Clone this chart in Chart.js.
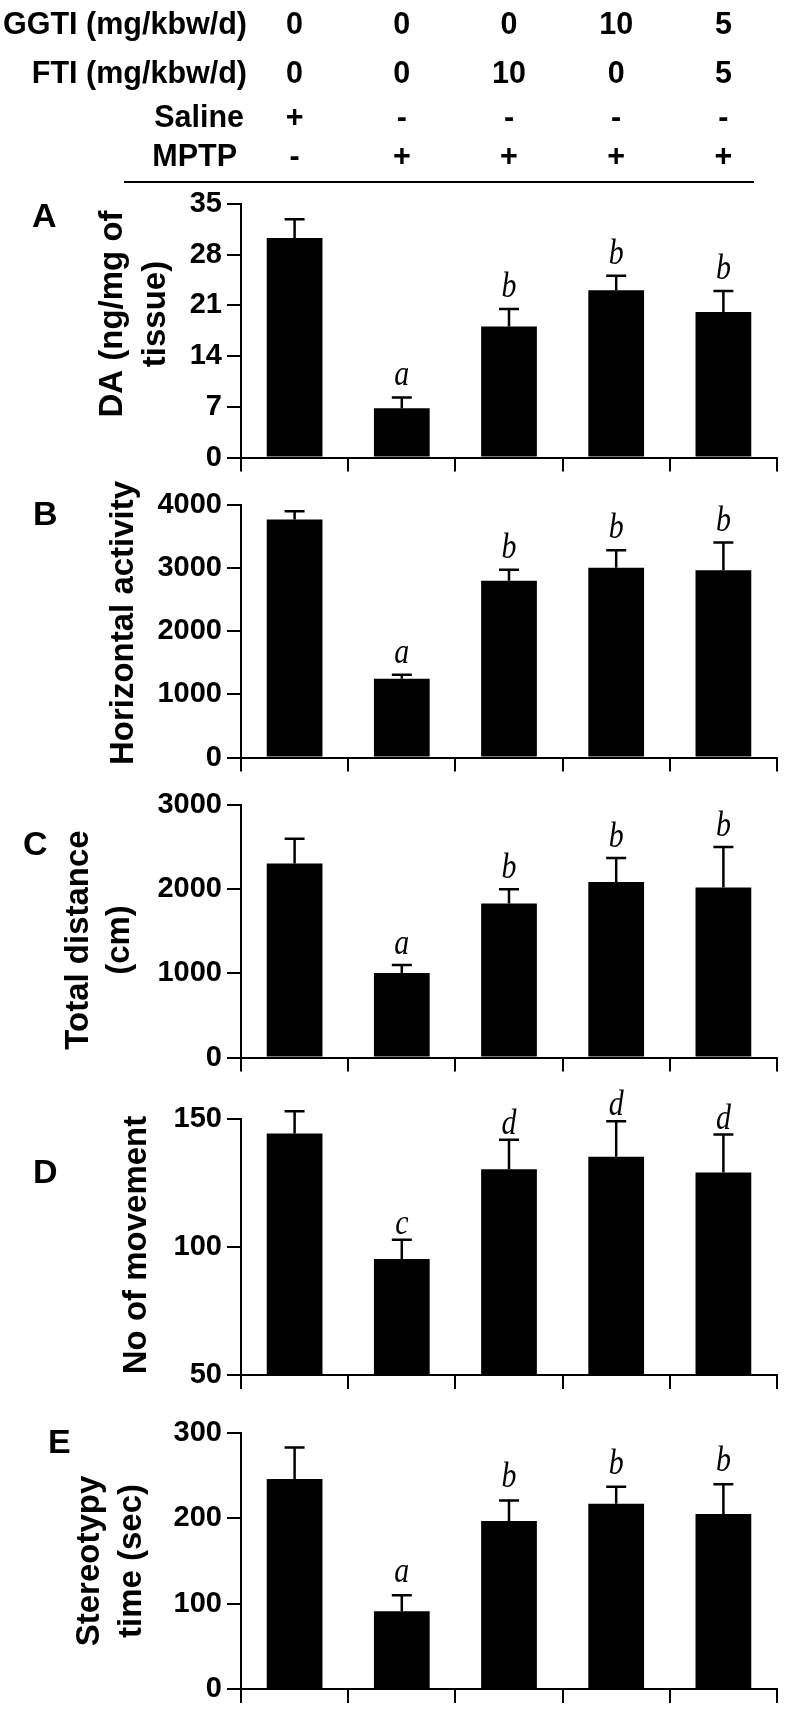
<!DOCTYPE html>
<html><head><meta charset="utf-8">
<script src="https://cdn.jsdelivr.net/npm/chart.js@4.4.1/dist/chart.umd.min.js"></script>
<style>
html,body{margin:0;padding:0;background:#fff;}
#wrap{position:relative;width:787px;height:1713px;overflow:hidden;background:#fff;}
canvas{position:absolute;left:0;}
</style></head><body><div id="wrap">
<canvas id="cA" width="787" height="480" style="top:0px"></canvas>
<canvas id="cB" width="787" height="300" style="top:480px"></canvas>
<canvas id="cC" width="787" height="300" style="top:780px"></canvas>
<canvas id="cD" width="787" height="320" style="top:1080px"></canvas>
<canvas id="cE" width="787" height="313" style="top:1400px"></canvas>
</div>
<script>
// ---- data ----
const groups = ['Saline', 'MPTP', 'MPTP + FTI 10', 'MPTP + GGTI 10', 'MPTP + GGTI 5 + FTI 5'];
const ggtiDose = ['0', '0', '0', '10', '5'];
const ftiDose = ['0', '0', '10', '0', '5'];
const salineRow = ['+', '-', '-', '-', '-'];
const mptpRow = ['-', '+', '+', '+', '+'];

const daMean = [30.3, 6.8, 18.1, 23.1, 20.1];
const daSem = [2.6, 1.5, 2.4, 2.0, 2.9];
const daSig = ['', 'a', 'b', 'b', 'b'];
const daTicks = [0, 7, 14, 21, 28, 35];

const horizMean = [3770, 1250, 2800, 3005, 2965];
const horizSem = [130, 60, 175, 280, 440];
const horizSig = ['', 'a', 'b', 'b', 'b'];
const horizTicks = [0, 1000, 2000, 3000, 4000];

const distMean = [2305, 1005, 1830, 2085, 2020];
const distSem = [295, 95, 170, 285, 480];
const distSig = ['', 'a', 'b', 'b', 'b'];
const distTicks = [0, 1000, 2000, 3000];

const moveMean = [144.3, 95.3, 130.4, 135.3, 129.1];
const moveSem = [8.7, 7.5, 11.5, 13.8, 14.8];
const moveSig = ['', 'c', 'd', 'd', 'd'];
const moveTicks = [50, 100, 150];

const stereoMean = [246, 91, 197, 217, 205];
const stereoSem = [37, 19, 24, 20, 35];
const stereoSig = ['', 'a', 'b', 'b', 'b'];
const stereoTicks = [0, 100, 200, 300];

// ---- layout / style ----
const SANS = '"Liberation Sans", Arial, Helvetica, sans-serif';
const SERIF = '"Liberation Serif", "Times New Roman", serif';
const AXIS_LEFT = 241, AXIS_RIGHT = 777;

const panels = [
  {id:'cA', top:0, h:480, areaTop:204, areaBot:460, mean:daMean, sem:daSem, sig:daSig, ticks:daTicks,
   letter:'A', letterX:32, letterY:227, title:['DA (ng/mg of','tissue)'], titleX:[122,165], titleCY:314, gap:12, header:true},
  {id:'cB', top:480, h:300, areaTop:505, areaBot:762, mean:horizMean, sem:horizSem, sig:horizSig, ticks:horizTicks,
   letter:'B', letterX:33, letterY:525, title:['Horizontal activity'], titleX:[133], titleCY:623, gap:12},
  {id:'cC', top:780, h:300, areaTop:805, areaBot:1062, mean:distMean, sem:distSem, sig:distSig, ticks:distTicks,
   letter:'C', letterX:23, letterY:855, title:['Total distance','(cm)'], titleX:[88,129], titleCY:940, gap:11},
  {id:'cD', top:1080, h:320, areaTop:1119, areaBot:1375, mean:moveMean, sem:moveSem, sig:moveSig, ticks:moveTicks,
   letter:'D', letterX:33, letterY:1183, title:['No of movement'], titleX:[146], titleCY:1245, gap:6},
  {id:'cE', top:1400, h:313, areaTop:1433, areaBot:1689, mean:stereoMean, sem:stereoSem, sig:stereoSig, ticks:stereoTicks,
   letter:'E', letterX:48, letterY:1453, title:['Stereotypy','time (sec)'], titleX:[99,141], titleCY:1561, gap:13}
];

function panelPlugin(p){
  return {
    id:'deco'+p.letter,
    afterDatasetsDraw(chart){
      const ctx = chart.ctx, ys = chart.scales.y, xs = chart.scales.x;
      const meta = chart.getDatasetMeta(0);
      ctx.save();
      ctx.strokeStyle = '#000'; ctx.fillStyle = '#000';
      ctx.lineWidth = 2.5; ctx.lineCap = 'butt';
      p.mean.forEach((m, i) => {
        const el = meta.data[i];
        const px = el.x, pb = el.y, pt = ys.getPixelForValue(m + p.sem[i]);
        ctx.beginPath();
        ctx.moveTo(px, pb); ctx.lineTo(px, pt);
        ctx.moveTo(px - 10, pt); ctx.lineTo(px + 10, pt);
        ctx.stroke();
        if (p.sig[i]) {
          ctx.save();
          ctx.translate(px, pt - p.gap);
          ctx.scale(0.83, 1);
          ctx.font = 'italic 36px ' + SERIF;
          ctx.textAlign = 'center'; ctx.textBaseline = 'alphabetic';
          ctx.fillText(p.sig[i], 0, 0);
          ctx.restore();
        }
      });
      // panel letter
      ctx.font = 'bold 34px ' + SANS;
      ctx.textAlign = 'left'; ctx.textBaseline = 'alphabetic';
      ctx.fillText(p.letter, p.letterX, p.letterY - p.top);
      // rotated axis title
      ctx.font = 'bold 33px ' + SANS;
      p.title.forEach((t, k) => {
        ctx.save();
        ctx.translate(p.titleX[k], p.titleCY - p.top);
        ctx.rotate(-Math.PI / 2);
        ctx.textAlign = 'center'; ctx.textBaseline = 'alphabetic';
        ctx.fillText(t, 0, 0);
        ctx.restore();
      });
      // treatment header (panel A only)
      if (p.header) {
        ctx.font = 'bold 30.5px ' + SANS;
        const rows = [
          {label:'GGTI (mg/kbw/d)', vals:ggtiDose, y:34, rx:247},
          {label:'FTI (mg/kbw/d)', vals:ftiDose, y:83, rx:247},
          {label:'Saline', vals:salineRow, y:127, rx:244},
          {label:'MPTP', vals:mptpRow, y:166, rx:237}
        ];
        rows.forEach(r => {
          ctx.textAlign = 'right';
          ctx.fillText(r.label, r.rx, r.y);
          ctx.textAlign = 'center';
          r.vals.forEach((v, i) => ctx.fillText(v, xs.getPixelForValue(i), r.y));
        });
        ctx.lineWidth = 2;
        ctx.beginPath(); ctx.moveTo(124, 182); ctx.lineTo(754, 182); ctx.stroke();
      }
      ctx.restore();
    }
  };
}

panels.forEach(p => {
  const T = p.areaTop - p.top, B = p.areaBot - p.top;
  new Chart(document.getElementById(p.id), {
    type: 'bar',
    data: {
      labels: groups,
      datasets: [{data: p.mean, backgroundColor: '#000', borderWidth: 0,
                  categoryPercentage: 1.0, barPercentage: 0.52}]
    },
    options: {
      responsive: false, animation: false, devicePixelRatio: 1,
      layout: {padding: {left: 0, top: T, right: 787 - AXIS_RIGHT, bottom: 0}},
      plugins: {legend: {display: false}, tooltip: {enabled: false}},
      scales: {
        x: {
          ticks: {display: false},
          grid: {display: true, drawOnChartArea: false, drawTicks: true, tickLength: 14, color: '#000', lineWidth: 2, offset: true},
          border: {display: true, color: '#000', width: 2},
          afterFit: s => { s.height = p.h - B; }
        },
        y: {
          min: p.ticks[0], max: p.ticks[p.ticks.length - 1],
          afterBuildTicks: s => { s.ticks = p.ticks.map(v => ({value: v})); },
          ticks: {color: '#000', padding: 5, font: {family: SANS, size: 29, weight: 'bold'},
                  callback: v => String(v)},
          grid: {display: true, drawOnChartArea: false, drawTicks: true, tickLength: 14, color: '#000', lineWidth: 2},
          border: {display: true, color: '#000', width: 2},
          afterFit: s => { s.width = AXIS_LEFT; }
        }
      }
    },
    plugins: [panelPlugin(p)]
  });
});
</script>
</body></html>
